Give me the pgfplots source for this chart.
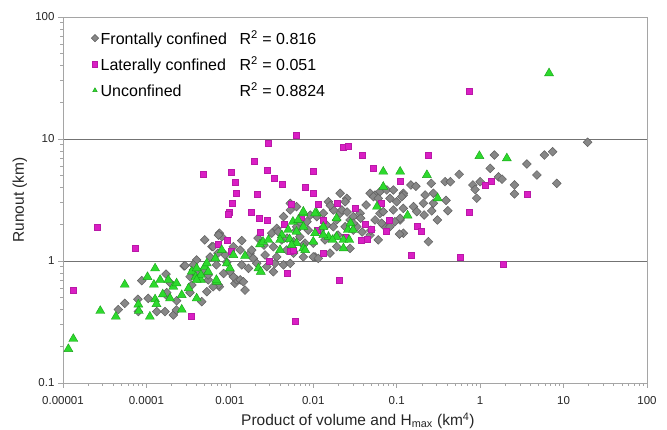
\documentclass[border=0pt]{standalone}
\usepackage{fontspec}
\setmainfont{Liberation Sans}
\usepackage{pgfplots}
\pgfplotsset{compat=1.18}
\definecolor{frontal}{RGB}{135,135,135}
\definecolor{frontaledge}{RGB}{95,95,95}
\definecolor{lateral}{RGB}{218,30,196}
\definecolor{unconf}{RGB}{45,218,45}
\definecolor{unconfedge}{RGB}{25,160,25}
\definecolor{frame}{RGB}{165,165,165}

\begin{document}
\begin{tikzpicture}
\path[use as bounding box] (-63pt,-47pt) rectangle (604pt,383pt);
\begin{axis}[
    scale only axis, width=584pt, height=366pt,
    xmode=log, ymode=log,
    xmin=1e-5, xmax=100, ymin=0.1, ymax=100,
    xtick={1e-5,1e-4,1e-3,1e-2,1e-1,1,10,100},
    xticklabels={0.00001,0.0001,0.001,0.01,0.1,1,10,100},
    ytick={0.1,1,10,100},
    yticklabels={0.1,1,10,100},
    tick pos=left, tick align=outside,
    major tick length=5pt, minor tick length=3pt,
    axis line style={frame, line width=0.8pt},
    every tick/.style={frame, line width=0.6pt},
    ymajorgrids, major grid style={black!55, line width=0.6pt},
    tick label style={font=\fontsize{11.5}{14}\selectfont, text=black!85},
    xticklabel style={yshift=-5pt},
    xlabel={Product of volume and H\textsubscript{max} (km\textsuperscript{4})},
    ylabel={Runout (km)},
    label style={font=\fontsize{15.5}{19}\selectfont, text=black!85},
    xlabel style={at={(axis description cs:0.505,-0.103)}, anchor=center},
    ylabel style={at={(axis description cs:-0.074,0.5)}, anchor=center, rotate=0},
    legend style={at={(axis description cs:0.043,0.975)}, anchor=north west,
        draw=none, fill=none, font=\fontsize{16}{19}\selectfont, row sep=6.5pt},
    legend cell align=left,
    legend image code/.code={\draw[#1, mark size=2.6pt] plot coordinates {(4pt,0pt)};},
]

% frontally confined
\addplot[only marks, mark=square*, mark size=3.1pt,
    mark options={rotate=45, fill=frontal, draw=frontaledge, line width=0.5pt}]
coordinates {
(4.6e-5,0.40)(5.5e-5,0.45)(8.0e-5,0.385)(7.9e-5,0.485)(8.8e-5,0.69)(1.05e-4,0.494)
(1.33e-4,0.385)(1.67e-4,0.385)(1.72e-4,0.78)(1.72e-4,0.526)(1.92e-4,0.664)(2.1e-4,0.361)
(2.29e-4,0.397)(2.3e-4,0.473)(2.83e-4,0.91)(3.33e-4,0.743)(3.65e-4,0.844)(4.0e-4,0.768)
(3.5e-4,0.636)(1.75e-4,0.55)(3.33e-4,0.55)(4.6e-4,0.464)(5.3e-4,0.56)(7.5e-4,0.616)
(1.15e-3,0.656)(1.52e-3,0.578)(1.21e-3,0.70)(5.0e-4,1.49)(7.5e-4,1.69)(8.0e-4,1.58)
(6.1e-4,1.31)(1.39e-3,1.47)(1.1e-3,1.31)(1.33e-3,1.23)(1.75e-3,1.16)(1.83e-3,1.23)
(5.8e-4,1.08)(8.8e-4,1.12)(4.0e-4,1.02)(3.65e-4,0.93)(4.8e-4,0.844)(5.5e-4,0.70)
(7.3e-4,0.636)(1.1e-3,0.743)(1.33e-3,0.70)(1.0e-3,0.817)(1.39e-3,0.93)(1.91e-3,1.05)
(2.1e-3,0.957)(2.64e-3,1.12)(2.77e-3,0.898)(3.48e-3,0.957)(3.32e-3,1.31)(3.18e-3,1.69)
(3.65e-3,1.85)(4.2e-3,1.49)(4.8e-3,1.23)(5.3e-3,2.62)(4.4e-3,2.31)(3.8e-3,1.74)
(6.3e-3,2.79)(6.9e-3,1.58)(7.96e-3,1.40)(5.8e-3,1.19)(7.6e-3,1.08)(4.4e-3,0.93)
(3.32e-3,0.817)(1.45e-3,0.676)(7.3e-4,1.63)(6.3e-4,1.31)(7.2e-4,1.16)(2.9e-4,0.915)
(4.0e-4,0.79)(5.3e-3,2.97)(6.3e-3,1.79)(8.7e-3,1.79)(1.05e-2,1.08)(1.59e-2,1.16)
(5.3e-3,0.957)(3.65e-3,1.08)(5.8e-3,1.16)(1.52e-2,3.06)(1.74e-2,2.62)(2.1e-2,3.59)
(2.52e-2,3.26)(2.1e-2,2.46)(2.76e-2,2.17)(3.02e-2,2.31)(1.91e-2,2.17)(1.45e-2,1.97)
(2.41e-2,1.91)(3.02e-2,1.79)(1.91e-2,1.31)(1.0e-2,1.08)(1.21e-2,1.79)(2.41e-2,3.06)
(1.6e-2,2.85)(1.32e-2,2.46)(2.2e-2,2.62)(3.64e-2,2.46)(3.32e-2,1.91)(4.8e-2,3.59)
(5.5e-2,3.47)(6.3e-2,3.7)(7.6e-2,3.82)(8.3e-2,3.26)(0.1,3.06)(0.12,3.59)
(6.3e-2,2.46)(5.5e-2,2.17)(6.9e-2,1.97)(8.3e-2,1.91)(0.11,2.17)(6.0e-2,1.49)
(4.8e-2,1.63)(2.76e-2,1.27)(5.8e-3,1.44)(7.6e-3,1.35)(1.0e-2,1.40)(1.15e-2,1.05)
(6.3e-3,1.91)(8.4e-3,2.1)(1.1e-2,2.31)(1.74e-2,1.91)(1.48,7.39)(1.32,5.75)
(0.56,5.13)(3.63,6.24)(4.8,5.07)(2.58,4.2)(2.58,3.55)(1.66,4.9)
(1.83,4.68)(0.82,4.2)(0.87,3.85)(1.0,4.47)(0.91,3.27)(0.38,4.47)
(0.44,4.47)(0.26,4.33)(0.148,4.2)(0.17,4.1)(0.12,3.47)(0.219,3.47)
(0.275,3.59)(0.209,2.97)(0.275,2.97)(0.39,3.14)(0.41,2.58)(0.263,2.58)
(0.307,2.17)(0.159,2.79)(0.174,2.54)(0.11,2.24)(0.12,1.69)(0.24,1.44)
(19.4,9.4)(5.9,7.39)(7.4,7.87)(8.3,4.33)(0.108,1.66)(4.9e-2,1.79)
(9.5e-2,2.1)(5.26e-2,3.37)(6.0e-2,3.26)(9.1e-2,3.82)(0.115,3.37)(0.213,2.38)
(0.12,2.7)(9.1e-2,2.62)(6.9e-2,2.54)(6.6e-2,2.04)(3.7e-2,2.24)(3.02e-2,2.04)
(6.3e-4,0.616)(8.4e-4,0.79)(6.9e-4,0.93)(1.67e-3,0.87)(5.5e-4,0.768)(9.2e-4,0.98)
(9.2e-3,2.38)(1.38e-2,1.49)(1.98e-2,1.63)(3.85e-2,1.73)(6.9e-3,2.09)(4.85e-3,1.54)
(2.57e-3,1.35)(2.18e-3,1.54)(2.54e-2,2.52)(4.3e-2,2.88)
};
\addlegendentry{\makebox[139pt][l]{Frontally confined}R\textsuperscript{2} = 0.816}

% laterally confined
\addplot[only marks, mark=square*, mark size=3pt,
    mark options={fill=lateral, draw=lateral!85!black, line width=0.4pt}]
coordinates {
(1.32e-5,0.58)(2.6e-5,1.9)(7.4e-5,1.27)(3.4e-4,0.35)(6.05e-3,0.32)(2.06e-2,0.69)
(4.8e-4,5.1)(1.03e-3,5.3)(1.15e-3,4.4)(1.19e-3,3.6)(1.08e-3,3.0)(1.97e-3,6.6)
(2.85e-3,9.3)(6.2e-3,10.8)(2.77e-3,5.6)(3.4e-3,4.8)(4.2e-3,4.3)(2.14e-3,3.5)
(8.0e-3,4.0)(1.0e-2,5.4)(1.0e-2,3.6)(2.3e-2,8.5)(2.6e-2,8.8)(3.85e-2,7.3)
(5.2e-2,5.8)(1.91e-2,3.0)(1.13e-2,2.9)(5.4e-3,2.9)(1.8e-3,2.5)(9.9e-4,2.5)
(9.5e-4,2.4)(2.24e-3,2.24)(2.8e-3,2.17)(2.3e-3,1.73)(4.5e-3,2.0)(7.1e-3,2.3)
(9.3e-4,1.49)(7.3e-4,1.37)(1.04e-3,1.21)(3.0e-3,1.0)(5.3e-3,1.21)(4.9e-3,0.79)
(0.11,4.5)(3.2e-2,2.7)(4.2e-2,2.0)(4.9e-2,1.83)(3.8e-2,1.49)(4.4e-2,1.5)
(7.5e-2,1.74)(8.1e-2,2.17)(1.32e-2,2.17)(1.1e-2,1.8)(5.8e-3,1.23)(1.32e-2,1.16)
(0.24,7.4)(1.15,4.2)(1.34,4.5)(3.7,3.5)(0.74,2.5)(0.177,1.94)
(0.195,1.77)(0.148,1.12)(0.58,1.08)(1.87,0.94)(0.74,24.7)(6.5e-2,3.0)
(2.4e-2,1.56)
};
\addlegendentry{\makebox[139pt][l]{Laterally confined}R\textsuperscript{2} = 0.051}

% unconfined
\addplot[only marks, mark=triangle*, mark size=5.2pt,
    mark options={fill=unconf, draw=unconfedge, line width=0.4pt}]
coordinates {
(1.16e-5,0.19)(1.33e-5,0.23)(2.8e-5,0.39)(4.3e-5,0.35)(5.5e-5,0.64)(8.0e-5,0.44)
(8.1e-5,0.39)(1.03e-4,0.74)(1.27e-4,0.87)(1.1e-4,0.35)(1.23e-4,0.64)(1.27e-4,0.485)
(1.32e-4,0.444)(1.46e-4,0.70)(1.57e-4,0.533)(1.83e-4,0.70)(1.92e-4,0.494)(2.1e-4,0.616)
(2.3e-4,0.656)(2.65e-4,0.526)(2.65e-4,0.40)(3.2e-4,0.597)(4.0e-4,0.494)(3.5e-4,0.82)
(4.0e-4,0.871)(7.0e-4,0.676)(3.9e-4,0.743)(5.0e-4,0.898)(4.5e-4,0.70)(4.5e-4,0.77)
(5.5e-4,0.817)(6.7e-4,1.05)(6.9e-4,0.70)(8.0e-4,1.23)(9.2e-4,0.957)(1.0e-3,0.871)
(1.1e-3,1.12)(1.52e-3,1.1)(2.3e-3,1.37)(2.5e-3,1.44)(2.9e-3,1.49)(2.2e-3,0.871)
(2.35e-3,0.817)(4.0e-3,1.23)(4.2e-3,1.63)(5.0e-3,1.8)(5.2e-3,1.51)(6.3e-3,1.40)
(7.6e-3,1.27)(7.6e-3,1.91)(5.7e-3,2.1)(4.0e-3,1.49)(5.5e-3,1.35)(6.6e-3,2.17)
(7.6e-3,2.46)(1.1e-2,2.46)(1.32e-2,1.91)(1.52e-2,1.58)(2.3e-2,1.49)(2.6e-2,1.8)
(2.8e-2,2.04)(1.0e-2,1.44)(8.0e-3,1.23)(6.9e-2,5.4)(0.11,5.4)(6.9e-2,4.06)
(5.8e-2,2.79)(0.135,2.36)(7.6e-3,2.54)(1.05e-2,2.46)(1.9e-2,2.24)(6.3e-3,1.74)
(1.05e-2,1.69)(1.32e-2,1.63)(1.9e-2,1.58)(1.7e-2,1.49)(2.3e-2,1.27)(2.7e-2,1.49)
(0.23,5.07)(0.98,7.26)(2.09,6.95)(0.31,3.27)(6.7,34.6)(3.0e-2,1.8)
(4.0e-4,0.70)(5.3e-4,0.957)
};
\addlegendentry{\makebox[139pt][l]{Unconfined}R\textsuperscript{2} = 0.8824}

\end{axis}
\end{tikzpicture}
\end{document}
